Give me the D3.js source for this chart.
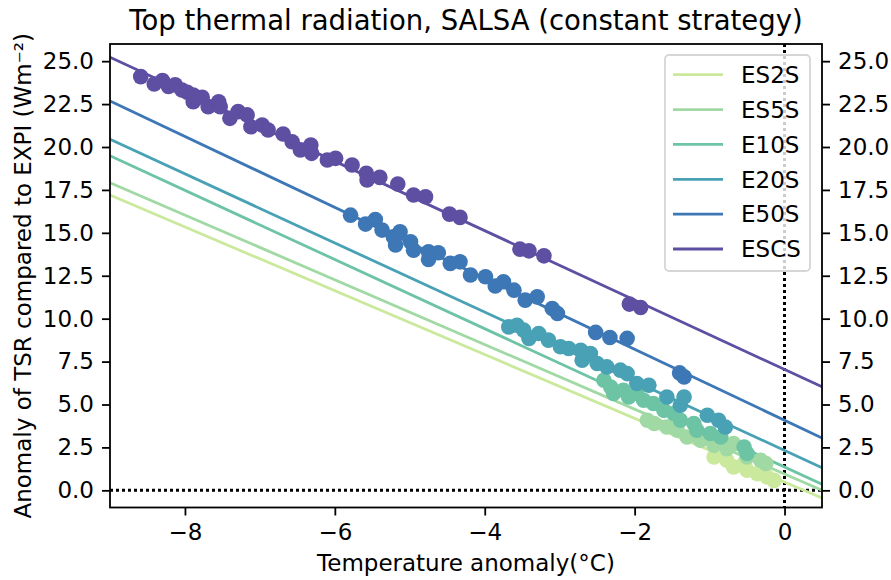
<!DOCTYPE html>
<html>
<head>
<meta charset="utf-8">
<script src="https://cdn.jsdelivr.net/npm/d3@7"></script>
<style>
  body { margin: 0; background: #fff; }
  svg { font-family: 'DejaVu Sans', sans-serif; }
</style>
</head>
<body>
<svg id="chart" width="891" height="580"></svg>
<script>
// series names and colours (legend order)
const categories = ['ES2S', 'ES5S', 'E10S', 'E20S', 'E50S', 'ESCS']
const colors = ['#cbe99d', '#a0d9a3', '#6dc4a4', '#48a1b4', '#3d77b6', '#5e4fa2']

// fitted line, value at the left and right edge of the x range
const fitAtLeft = [17.2, 17.92, 19.49, 20.45, 22.68, 25.23]
const fitAtRight = [-0.45, 0.01, 0.35, 1.32, 3.05, 6.03]

// scatter points [temperature anomaly, TSR anomaly]
const es2sPts = [[-0.94, 1.94], [-0.77, 1.75], [-0.68, 1.36], [-0.54, 1.56], [-0.50, 1.17],
  [-0.36, 0.97], [-0.23, 0.78], [-0.14, 0.58]]
const es5sPts = [[-1.83, 4.08], [-1.74, 3.89], [-1.57, 3.69], [-1.43, 3.50], [-1.30, 3.11],
  [-1.12, 2.92], [-0.94, 2.62], [-0.77, 2.43], [-0.68, 2.72], [-0.50, 1.94], [-0.32, 1.75],
  [-0.25, 1.56]]
const e10sPts = [[-2.41, 6.41], [-2.32, 6.02], [-2.28, 5.64], [-2.15, 5.83], [-2.08, 5.44],
  [-1.97, 5.64], [-1.88, 5.25], [-1.75, 5.06], [-1.61, 4.66], [-1.48, 4.47], [-1.39, 4.08],
  [-1.21, 3.89], [-1.17, 3.50], [-0.99, 3.31], [-0.85, 3.11], [-0.54, 2.52], [-0.50, 2.14]]
const e20sPts = [[-3.68, 9.52], [-3.57, 9.62], [-3.48, 9.33], [-3.41, 8.85], [-3.28, 9.14],
  [-3.15, 8.75], [-2.99, 8.36], [-2.88, 8.26], [-2.72, 8.16], [-2.70, 7.58], [-2.59, 7.97],
  [-2.50, 7.39], [-2.37, 7.19], [-2.19, 7.00], [-2.10, 6.80], [-1.97, 6.22], [-1.81, 6.12],
  [-1.57, 5.44], [-1.39, 4.96], [-1.34, 5.44], [-1.03, 4.37], [-0.88, 4.08], [-0.79, 3.69]]
const e50sPts = [[-5.79, 16.03], [-5.59, 15.51], [-5.46, 15.78], [-5.37, 15.16], [-5.22, 14.77],
  [-5.13, 15.06], [-5.19, 14.29], [-4.99, 14.48], [-4.95, 13.99], [-4.75, 13.90], [-4.62, 13.84],
  [-4.75, 13.45], [-4.46, 13.22], [-4.33, 13.31], [-4.19, 12.54], [-3.99, 12.44], [-3.86, 11.90],
  [-3.75, 12.15], [-3.61, 11.66], [-3.46, 11.08], [-3.30, 11.27], [-3.10, 10.59], [-3.03, 10.30],
  [-2.52, 9.20], [-2.33, 8.90], [-2.10, 8.85], [-1.40, 6.84], [-1.34, 6.61]]
const escsPts = [[-8.59, 24.10], [-8.41, 23.67], [-8.30, 23.87], [-8.22, 23.52], [-8.13, 23.62],
  [-8.04, 23.32], [-7.97, 23.19], [-7.89, 23.03], [-7.89, 22.64], [-7.77, 22.90], [-7.69, 22.35],
  [-7.55, 22.64], [-7.53, 22.35], [-7.40, 21.67], [-7.29, 22.06], [-7.17, 21.87], [-7.12, 21.18],
  [-6.97, 21.28], [-6.89, 20.99], [-6.69, 20.76], [-6.57, 20.31], [-6.46, 19.83], [-6.32, 20.12],
  [-6.31, 19.63], [-6.10, 19.24], [-5.99, 19.34], [-5.77, 18.95], [-5.58, 18.47], [-5.57, 18.08],
  [-5.40, 18.23], [-5.16, 17.84], [-4.95, 17.20], [-4.79, 17.10], [-4.47, 16.09], [-4.33, 15.90],
  [-3.53, 14.05], [-3.41, 13.95], [-3.21, 13.66], [-2.07, 10.85], [-1.92, 10.65]]
const points = [es2sPts, es5sPts, e10sPts, e20sPts, e50sPts, escsPts]

const xTicks = [-8, -6, -4, -2, 0]
const yTicks = [0, 2.5, 5, 7.5, 10, 12.5, 15, 17.5, 20, 22.5, 25]

// layout
const plotLeft = 110
const plotRight = 822
const plotTop = 44
const plotBottom = 507.5
const fontSize = 23

const svg = d3.select('#chart')

const x = d3.scaleLinear().domain([-9, 0.5]).range([plotLeft, plotRight])
const y = d3.scaleLinear().domain([-1, 26]).range([plotBottom, plotTop])

svg.append('defs').append('clipPath').attr('id', 'plot')
  .append('rect')
  .attr('x', plotLeft).attr('y', plotTop)
  .attr('width', plotRight - plotLeft).attr('height', plotBottom - plotTop)

const plot = svg.append('g').attr('clip-path', 'url(#plot)')

// dotted zero lines
plot.append('line')
  .attr('x1', plotLeft).attr('x2', plotRight)
  .attr('y1', y(0)).attr('y2', y(0))
  .attr('stroke', 'black').attr('stroke-width', 3)
  .attr('stroke-dasharray', '3,3')
plot.append('line')
  .attr('x1', x(0)).attr('x2', x(0))
  .attr('y1', plotTop).attr('y2', plotBottom)
  .attr('stroke', 'black').attr('stroke-width', 3)
  .attr('stroke-dasharray', '3,3')

// fitted lines
const xDom = x.domain()
plot.append('g').selectAll('line')
  .data(categories)
  .join('line')
  .attr('x1', x(xDom[0]))
  .attr('x2', x(xDom[1]))
  .attr('y1', (d, i) => y(fitAtLeft[i]))
  .attr('y2', (d, i) => y(fitAtRight[i]))
  .attr('stroke', (d, i) => colors[i])
  .attr('stroke-width', 2.8)

// scatter points
points.forEach((pts, i) => {
  plot.append('g').selectAll('circle')
    .data(pts)
    .join('circle')
    .attr('cx', d => x(d[0]))
    .attr('cy', d => y(d[1]))
    .attr('r', 7.8)
    .attr('fill', colors[i])
})

// axes
const fmtY = d3.format('.1f')
const styleAxis = g => {
  g.select('.domain').remove()
  g.selectAll('.tick line').attr('stroke', 'black').attr('stroke-width', 1.8)
  g.selectAll('.tick text').attr('fill', 'black')
    .style('font-size', fontSize + 'px').style('font-family', 'DejaVu Sans')
}

svg.append('g')
  .attr('transform', `translate(0,${plotBottom})`)
  .call(d3.axisBottom(x).tickValues(xTicks).tickSizeInner(8).tickSizeOuter(0).tickPadding(8))
  .call(styleAxis)

svg.append('g')
  .attr('transform', `translate(${plotLeft},0)`)
  .call(d3.axisLeft(y).tickValues(yTicks).tickFormat(fmtY).tickSizeInner(8).tickSizeOuter(0).tickPadding(8))
  .call(styleAxis)

svg.append('g')
  .attr('transform', `translate(${plotRight},0)`)
  .call(d3.axisRight(y).tickValues(yTicks).tickFormat(fmtY).tickSizeInner(8).tickSizeOuter(0).tickPadding(8))
  .call(styleAxis)

// frame
svg.append('rect')
  .attr('x', plotLeft).attr('y', plotTop)
  .attr('width', plotRight - plotLeft).attr('height', plotBottom - plotTop)
  .attr('fill', 'none').attr('stroke', 'black').attr('stroke-width', 1.8)

// labels
svg.append('text')
  .attr('x', (plotLeft + plotRight) / 2).attr('y', 30)
  .attr('text-anchor', 'middle')
  .style('font-size', '27.5px')
  .text('Top thermal radiation, SALSA (constant strategy)')

svg.append('text')
  .attr('x', (plotLeft + plotRight) / 2).attr('y', 571)
  .attr('text-anchor', 'middle')
  .style('font-size', fontSize + 'px')
  .text('Temperature anomaly(°C)')

svg.append('text')
  .attr('transform', `translate(31,${(plotTop + plotBottom) / 2}) rotate(-90)`)
  .attr('text-anchor', 'middle')
  .style('font-size', fontSize + 'px')
  .text('Anomaly of TSR compared to EXPI (Wm⁻²)')

// legend
const legend = svg.append('g')
legend.append('rect')
  .attr('x', 665).attr('y', 55)
  .attr('width', 145).attr('height', 216)
  .attr('rx', 4)
  .attr('fill', 'white').attr('fill-opacity', 0.8)
  .attr('stroke', '#d6d6d6').attr('stroke-width', 1.8)

const rowY = d3.scalePoint().domain(categories).range([74.7, 249])
const rows = legend.selectAll('g.row')
  .data(categories)
  .join('g')
  .attr('class', 'row')
  .attr('transform', d => `translate(0,${rowY(d)})`)
rows.append('line')
  .attr('x1', 673).attr('x2', 723)
  .attr('stroke', (d, i) => colors[i])
  .attr('stroke-width', 2.8)
rows.append('text')
  .attr('x', 741).attr('dy', '0.36em')
  .style('font-size', fontSize + 'px')
  .text(d => d)
</script>
</body>
</html>
